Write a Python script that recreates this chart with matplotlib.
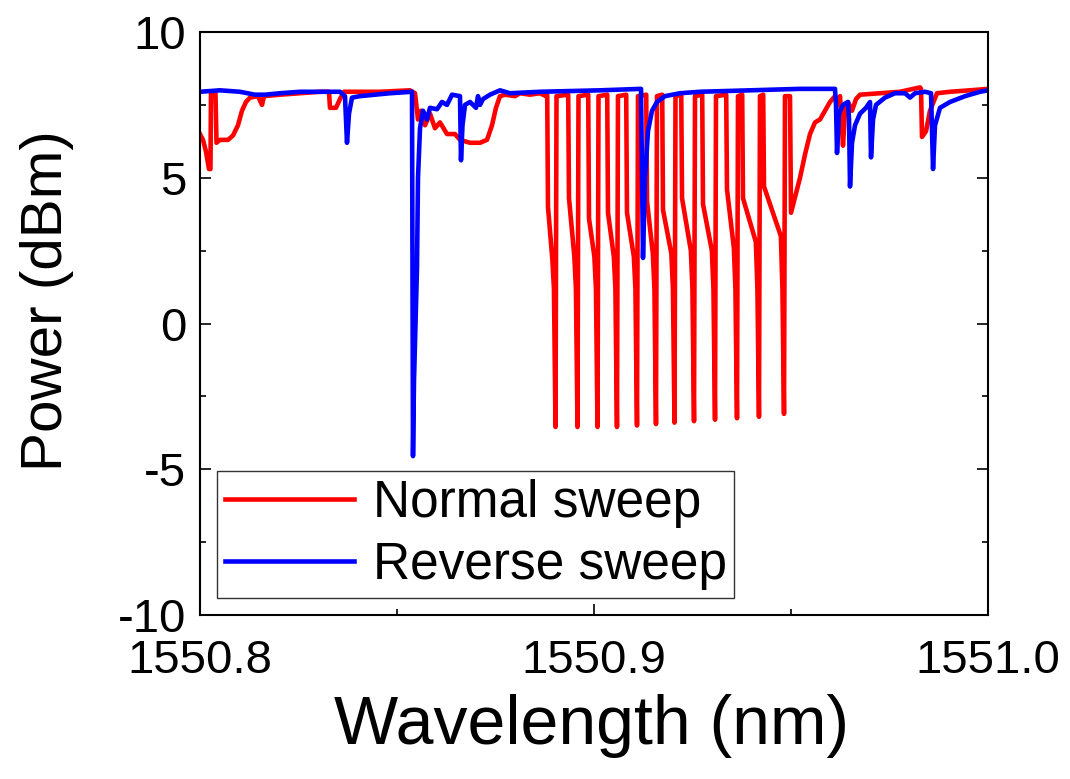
import numpy as np
import matplotlib
matplotlib.use('Agg')
import matplotlib.pyplot as plt
from matplotlib.ticker import MultipleLocator, FormatStrFormatter

plt.rcParams['font.family'] = ['Liberation Sans', 'DejaVu Sans']
plt.rcParams['axes.unicode_minus'] = False

# wavelengths are stored as offset from 1550.8 nm, in pm
start_nm = 1550.8

# normal sweep, left part (before the comb)
red_left_pm = [0, 0.76, 1.52, 2.28, 2.66, 2.79, 3.93, 4.19, 5.08, 7.11, 8.38, 9.64,
               10.66, 11.67, 12.69, 14.72, 15.74, 16.24, 20.30, 25.38, 30.46, 32.74,
               32.99, 34.52, 35.53, 36.55, 45.68, 53.30, 54.57, 55.33, 56.09, 57.11,
               58.37, 59.64, 60.91, 62.69, 64.72, 65.99, 68.53, 71.06, 72.84, 74.11,
               75.12, 76.14, 77.41, 79.95, 81.22, 83.75, 86.29, 87.81]
red_left_dbm = [6.5, 6.3, 5.9, 5.3, 5.3, 7.9, 7.9, 6.2, 6.3, 6.3, 6.45, 6.8,
                7.3, 7.6, 7.75, 7.8, 7.5, 7.8, 7.85, 7.9, 7.95, 7.95,
                7.4, 7.4, 7.7, 7.95, 7.95, 8.0, 7.9, 7.0, 7.3, 6.8,
                7.2, 6.7, 6.9, 6.5, 6.5, 6.3, 6.2, 6.2, 6.3, 6.8,
                7.4, 7.8, 7.85, 7.8, 7.9, 7.85, 7.9, 7.8]

# comb of dips in the normal sweep
tooth_start_pm = [88.32, 93.65, 98.73, 103.55, 108.37, 113.45, 117.51, 122.34,
                  127.66, 133.75, 137.81, 143.14]
tooth_bottom_pm = [90.23, 95.81, 100.89, 105.83, 110.91, 115.73, 120.43, 125.38,
                   130.71, 136.29, 141.87, 148.22]
tooth_high_dbm = [4.0, 4.3, 3.6, 3.8, 3.8, 4.2, 3.9, 4.3, 4.1, 4.6, 4.3, 4.7]
tooth_low_dbm = [2.2, 2.3, 2.3, 2.3, 2.3, 2.4, 2.4, 2.5, 2.5, 2.6, 2.8, 3.0]
tooth_min_dbm = [-3.55, -3.55, -3.55, -3.55, -3.5, -3.45, -3.4, -3.35, -3.3,
                 -3.25, -3.2, -3.1]
top_dbm = 7.85

# normal sweep, right part (after the comb)
red_right_pm = [148.47, 149.74, 150.0, 150.77, 151.52, 152.28, 153.55, 154.82,
                156.09, 157.36, 158.63, 159.89, 161.16, 161.93, 162.43, 163.19,
                163.70, 164.46, 165.48, 166.49, 167.51, 172.58, 177.66, 182.74,
                182.99, 183.24, 184.26, 185.27, 187.05, 190.35, 195.43, 200.0]
red_right_dbm = [7.8, 7.8, 3.8, 4.2, 4.6, 5.0, 5.8, 6.5,
                 6.9, 7.0, 7.3, 7.6, 7.8, 7.5, 7.8, 6.1,
                 7.3, 7.6, 7.3, 7.7, 7.85, 7.9, 7.95, 8.1,
                 8.05, 6.4, 6.6, 7.3, 7.9, 7.95, 8.0, 8.05]

# reverse sweep
blue_pm = [0, 5.08, 10.15, 13.96, 16.50, 20.30, 25.38, 35.53, 36.80, 37.31, 37.82,
           38.58, 40.61, 44.42, 48.22, 53.81, 54.06, 54.31, 55.07, 55.33, 55.84,
           56.60, 57.61, 58.37, 60.15, 61.42, 62.69, 63.96, 65.99, 66.24, 66.62,
           67.26, 68.53, 70.05, 70.56, 71.06, 71.83, 73.60, 76.14, 78.68, 86.29,
           101.52, 111.93, 112.43, 112.94, 113.70, 114.72, 115.99, 118.02, 121.82,
           126.90, 139.59, 152.28, 161.16, 161.42, 161.67, 162.18, 163.19, 164.46,
           164.72, 164.97, 165.48, 166.24, 167.51, 169.03, 170.05, 170.30, 170.81,
           171.57, 173.85, 176.39, 178.93, 180.20, 181.47, 184.01, 185.53, 186.04,
           186.54, 187.81, 190.35, 194.16, 197.96, 200.0]
blue_dbm = [7.95, 8.0, 7.95, 7.85, 7.85, 7.9, 7.95, 7.95, 7.8, 6.2, 7.2,
            7.75, 7.8, 7.85, 7.9, 7.95, -4.55, -2.0, 1.9, 5.0, 6.7,
            7.3, 7.0, 7.4, 7.35, 7.6, 7.5, 7.85, 7.8, 5.6, 6.8,
            7.5, 7.6, 7.4, 7.8, 7.5, 7.7, 7.85, 8.0, 7.9, 7.95,
            8.0, 8.05, 2.25, 5.0, 6.6, 7.3, 7.6, 7.8, 7.9,
            7.95, 8.0, 8.05, 8.05, 7.5, 5.85, 7.2, 7.5, 7.6,
            7.0, 4.7, 6.2, 6.8, 7.2, 7.4, 7.6, 5.7, 7.0,
            7.5, 7.75, 7.9, 7.9, 7.75, 7.9, 7.95, 7.9, 5.3,
            6.8, 7.4, 7.6, 7.8, 7.95, 8.0]

# assemble the normal sweep
red_pm = list(red_left_pm)
red_dbm = list(red_left_dbm)
for s, b, hi, lo, bot in zip(tooth_start_pm, tooth_bottom_pm, tooth_high_dbm,
                             tooth_low_dbm, tooth_min_dbm):
    red_pm += [s - 0.2, s, b - 0.8, b - 0.4, b, b + 0.25]
    red_dbm += [top_dbm, hi, lo, 1.2, bot, top_dbm - 0.05]
red_pm += red_right_pm
red_dbm += red_right_dbm

red_x = start_nm + np.array(red_pm) / 1000
blue_x = start_nm + np.array(blue_pm) / 1000

fig = plt.figure(figsize=(10.7, 7.79), dpi=100)
ax = fig.add_axes([0.1869, 0.2105, 0.7365, 0.7484])

ax.plot(red_x, red_dbm, color='#ff0000', lw=3.3, label='Normal sweep')
ax.plot(blue_x, blue_dbm, color='#0000ff', lw=3.3, label='Reverse sweep')

ax.set_xlim(1550.8, 1551.0)
ax.set_ylim(-10, 10)
ax.xaxis.set_major_locator(MultipleLocator(0.1))
ax.xaxis.set_minor_locator(MultipleLocator(0.05))
ax.xaxis.set_major_formatter(FormatStrFormatter('%.1f'))
ax.yaxis.set_major_locator(MultipleLocator(5))
ax.yaxis.set_minor_locator(MultipleLocator(2.5))

ax.tick_params(which='both', direction='in', right=True, top=False,
               labelsize=34, width=1.2)
ax.tick_params(which='major', length=8)
ax.tick_params(which='minor', length=4)
ax.tick_params(axis='x', which='major', pad=17)
ax.tick_params(axis='y', which='major', pad=10)
for sp in ax.spines.values():
    sp.set_linewidth(1.5)

ax.set_xlabel('Wavelength (nm)', fontsize=49, va='center')
ax.xaxis.set_label_coords(0.497, -0.19)
ax.set_ylabel('Power (dBm)', fontsize=42, va='center')
ax.yaxis.set_label_coords(-0.194, 0.54)

leg = ax.legend(loc='lower left', bbox_to_anchor=(0.022, 0.03), fontsize=37,
                frameon=True, fancybox=False, edgecolor='black',
                handlelength=2.5, handletextpad=0.37, borderpad=0.15,
                labelspacing=0.25, borderaxespad=0)
leg.get_frame().set_linewidth(1.0)

fig.savefig('out.png', dpi=100)
